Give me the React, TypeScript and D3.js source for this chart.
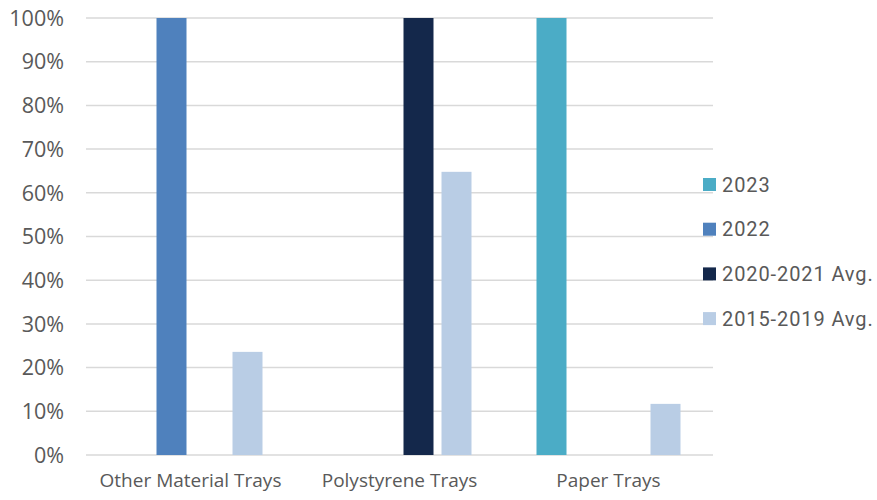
import React from "react";
import * as d3 from "d3";

const categories = ["Other Material Trays", "Polystyrene Trays", "Paper Trays"];
const seriesNames = ["2023", "2022", "2020-2021 Avg.", "2015-2019 Avg."];
const seriesColors = ["#4BACC6", "#4F81BD", "#14284B", "#B9CDE5"];
// values in %, null = no bar
const s2023 = [null, null, 100];
const s2022 = [100, null, null];
const s2020_2021 = [null, 100, null];
const s2015_2019 = [23.6, 64.8, 11.7];
const seriesValues = [s2023, s2022, s2020_2021, s2015_2019];
const yTicks = [0, 10, 20, 30, 40, 50, 60, 70, 80, 90, 100];

const W = 877;
const H = 500;
const left = 86;
const right = 713;
const top = 18;
const bottom = 455;

export default function App() {
  const x0 = d3.scaleBand<string>().domain(categories).range([left, right]).paddingInner(0).paddingOuter(0);
  const groupW = x0.bandwidth() * (152 / 209);
  const x1 = d3
    .scaleBand<string>()
    .domain(seriesNames)
    .range([(x0.bandwidth() - groupW) / 2, (x0.bandwidth() + groupW) / 2])
    .paddingInner(8 / 38)
    .paddingOuter(4 / 38);
  const y = d3.scaleLinear().domain([0, 100]).range([bottom, top]);
  const axisFont = "'Open Sans', sans-serif";
  const legendFont = "Roboto, sans-serif";

  return (
    <svg width={W} height={H} style={{ position: "absolute", left: 0, top: 0, background: "#fff" }}>
      {yTicks.map((t) => (
        <g key={t}>
          <line x1={left} x2={right} y1={y(t)} y2={y(t)} stroke="#d9d9d9" strokeWidth={1.5} />
          <text
            x={64}
            y={y(t)}
            dy="0.36em"
            textAnchor="end"
            fontFamily={axisFont}
            fontSize={21.5}
            fill="#595959"
          >
            {t}%
          </text>
        </g>
      ))}
      {categories.map((c, ci) => (
        <g key={c} transform={`translate(${x0(c)},0)`}>
          {seriesNames.map((s, si) => {
            const v = seriesValues[si][ci];
            if (v == null) return null;
            return (
              <rect
                key={s}
                x={x1(s)}
                y={y(v)}
                width={x1.bandwidth()}
                height={y(0) - y(v)}
                fill={seriesColors[si]}
              />
            );
          })}
          <text
            x={x0.bandwidth() / 2}
            y={487}
            textAnchor="middle"
            fontFamily={axisFont}
            fontSize={19}
            fill="#595959"
          >
            {c}
          </text>
        </g>
      ))}
      {seriesNames.map((s, i) => {
        const cy = 184.5 + i * 44.7;
        return (
          <g key={s}>
            <rect x={703} y={cy - 6.5} width={13} height={13} fill={seriesColors[i]} />
            <text
              x={722}
              y={cy}
              dy="0.36em"
              fontFamily={legendFont}
              fontSize={20}
              letterSpacing={0.9}
              fill="#595959"
            >
              {s}
            </text>
          </g>
        );
      })}
    </svg>
  );
}
